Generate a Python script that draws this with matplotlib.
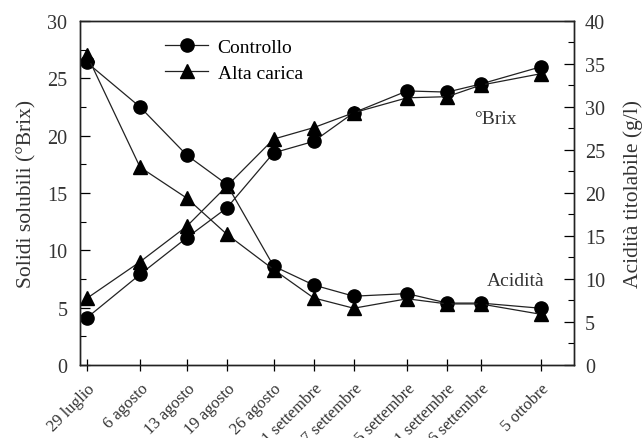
import matplotlib.pyplot as plt
from matplotlib.ticker import MultipleLocator
import numpy as np

plt.rcParams['font.family'] = ['Liberation Serif', 'DejaVu Serif']

# sampling dates and their labels
dates = np.array(['2005-07-29', '2005-08-06', '2005-08-13', '2005-08-19', '2005-08-26',
                  '2005-09-01', '2005-09-07', '2005-09-15', '2005-09-21', '2005-09-26',
                  '2005-10-05'], dtype='datetime64[D]')
date_labels = ['29 luglio', '6 agosto', '13 agosto', '19 agosto', '26 agosto',
               '1 settembre', '7 settembre', '15 settembre', '21 settembre',
               '26 settembre', '5 ottobre']

# soluble solids (°Brix)
brix_controllo = [4.1, 7.9, 11.1, 13.7, 18.5, 19.5, 22.0, 23.9, 23.8, 24.5, 26.0]
brix_alta = [5.8, 9.0, 12.1, 15.6, 19.7, 20.7, 22.0, 23.3, 23.4, 24.4, 25.4]

# titratable acidity (g/l)
acid_controllo = [35.2, 30.0, 24.4, 21.0, 11.5, 9.3, 8.0, 8.3, 7.2, 7.2, 6.6]
acid_alta = [36.1, 23.0, 19.4, 15.2, 11.1, 7.8, 6.6, 7.7, 7.1, 7.1, 5.9]

x = dates.astype(object)

def day(s):
    return np.datetime64(s).astype(object)

fig = plt.figure(figsize=(6.43, 4.39), dpi=100)
ax = fig.add_axes([0.1244, 0.1663, 0.7683, 0.7836])
ax2 = ax.twinx()

line_kw = dict(color='#222222', lw=0.9, markersize=9.5, markerfacecolor='black',
               markeredgecolor='black')
l1, = ax.plot(x, brix_controllo, marker='o', **line_kw)
l2, = ax.plot(x, brix_alta, marker='^', **line_kw)
ax2.plot(x, acid_controllo, marker='o', **line_kw)
ax2.plot(x, acid_alta, marker='^', **line_kw)

ax.set_xlim(day('2005-07-28'), day('2005-10-10'))
ax.set_ylim(0, 30)
ax2.set_ylim(0, 40)
for a in (ax, ax2):
    a.yaxis.set_major_locator(MultipleLocator(5))
    a.yaxis.set_minor_locator(MultipleLocator(2.5))
    a.tick_params(axis='y', which='major', direction='in', length=7, width=0.9,
                  labelsize=14.5, labelcolor='#333333')
    a.tick_params(axis='y', which='minor', direction='in', length=4, width=0.8)
    for s in a.spines.values():
        s.set_linewidth(1.0)
        s.set_color('#222222')

ax.set_xticks(x)
ax.set_xticklabels(date_labels, rotation=45, ha='right', rotation_mode='anchor')
ax.tick_params(axis='x', direction='inout', length=8, width=0.9, labelsize=12,
               labelcolor='#333333', pad=7)
ax.tick_params(axis='y', pad=9)
ax2.tick_params(axis='y', pad=8)

ax.set_ylabel('Solidi solubili (°Brix)', fontsize=15.5, labelpad=8, color='#333333')
ax2.set_ylabel('Acidità titolabile (g/l)', fontsize=15.5, labelpad=13, color='#333333')

ax.text(day('2005-09-25'), 21.1, '°Brix', fontsize=14, color='#333333')
ax.text(day('2005-09-27'), 7.0, 'Acidità', fontsize=14, color='#333333')

ax.legend([l1, l2], ['Controllo', 'Alta carica'], loc='upper left',
          bbox_to_anchor=(0.145, 0.99), frameon=False, fontsize=14,
          handlelength=2.2, handletextpad=0.5, labelspacing=0.45, borderaxespad=0.3)

plt.savefig('out.png', dpi=100)
plt.close()
